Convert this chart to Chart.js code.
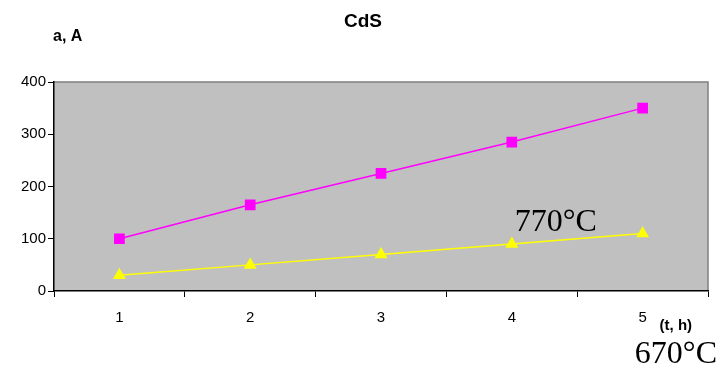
<!DOCTYPE html>
<html lang="ru">
<head>
    <meta charset="UTF-8">
    <title>CdS</title>
    <script src="https://cdn.jsdelivr.net/npm/chart.js"></script>
    <style>
        body {
            margin: 0;
            padding: 0;
            background: #fff;
        }
        .container {
            width: 720px;
            height: 365px;
            position: relative;
        }
    </style>
</head>
<body>
    <div class="container">
        <canvas id="cdsChart"></canvas>
    </div>
    <script>
        // datos
        const horas = ['1', '2', '3', '4', '5'];
        const serie770 = [100, 165, 225, 285, 350];
        const serie670 = [30, 50, 70, 90, 110];
        const ticksY = [0, 100, 200, 300, 400];

        const titulo = 'CdS';
        const ejeY = 'a, A';
        const ejeX = '(t, h)';
        const etiqueta770 = '770°C';
        const etiqueta670 = '670°C';

        // fondo gris del area y textos sueltos
        const fondoYTextos = {
            id: 'fondoYTextos',
            beforeDraw(chart) {
                const { ctx, chartArea: a } = chart;
                ctx.save();
                ctx.fillStyle = '#c0c0c0';
                ctx.fillRect(a.left, a.top, a.right - a.left, a.bottom - a.top);
                ctx.strokeStyle = '#808080';
                ctx.lineWidth = 1.5;
                ctx.beginPath();
                ctx.moveTo(a.left, a.top);
                ctx.lineTo(a.right, a.top);
                ctx.lineTo(a.right, a.bottom);
                ctx.stroke();
                ctx.restore();
            },
            afterDraw(chart) {
                const { ctx, chartArea: a, scales } = chart;
                ctx.save();
                ctx.fillStyle = '#000';
                ctx.textBaseline = 'alphabetic';

                ctx.font = 'bold 19px "Liberation Sans", Arial, sans-serif';
                ctx.textAlign = 'center';
                ctx.fillText(titulo, 363, 27);

                ctx.font = 'bold 16px "Liberation Sans", Arial, sans-serif';
                ctx.textAlign = 'left';
                ctx.fillText(ejeY, a.left - 1, 41);

                ctx.font = 'bold 15px "Liberation Sans", Arial, sans-serif';
                ctx.fillText(ejeX, scales.x.getPixelForValue(4) + 17, a.bottom + 39);

                ctx.font = '32px "Liberation Serif", "Times New Roman", serif';
                ctx.fillText(etiqueta770, scales.x.getPixelForValue(3) + 3, scales.y.getPixelForValue(115));
                ctx.textAlign = 'right';
                ctx.fillText(etiqueta670, chart.width - 3, chart.height - 2);
                ctx.restore();
            }
        };

        const ctx = document.getElementById('cdsChart').getContext('2d');
        new Chart(ctx, {
            type: 'line',
            data: {
                labels: horas,
                datasets: [
                    {
                        label: etiqueta770,
                        data: serie770,
                        borderColor: '#ff00ff',
                        backgroundColor: '#ff00ff',
                        borderWidth: 1.5,
                        pointStyle: 'rect',
                        pointRadius: 6.5,
                        pointHoverRadius: 6.5,
                        tension: 0
                    },
                    {
                        label: etiqueta670,
                        data: serie670,
                        borderColor: '#ffff00',
                        backgroundColor: '#ffff00',
                        borderWidth: 1.5,
                        pointStyle: 'triangle',
                        pointRadius: 6,
                        pointHoverRadius: 6,
                        tension: 0
                    }
                ]
            },
            options: {
                responsive: true,
                maintainAspectRatio: false,
                animation: false,
                layout: {
                    padding: { top: 82, right: 12, bottom: 0, left: 0 }
                },
                plugins: {
                    legend: { display: false },
                    title: { display: false },
                    tooltip: { enabled: false }
                },
                scales: {
                    x: {
                        offset: true,
                        grid: {
                            offset: true,
                            drawOnChartArea: false,
                            drawTicks: true,
                            tickLength: 6,
                            color: '#000'
                        },
                        border: { color: '#000', width: 1.5 },
                        ticks: {
                            color: '#000',
                            padding: 12,
                            font: { family: '"Liberation Sans", Arial, sans-serif', size: 15 }
                        },
                        afterFit(scale) { scale.height = 74; }
                    },
                    y: {
                        min: 0,
                        max: 400,
                        afterBuildTicks(scale) {
                            scale.ticks = ticksY.map(v => ({ value: v }));
                        },
                        grid: {
                            drawOnChartArea: false,
                            drawTicks: true,
                            tickLength: 6,
                            color: '#000'
                        },
                        border: { color: '#000', width: 1.5 },
                        ticks: {
                            color: '#000',
                            padding: 2,
                            font: { family: '"Liberation Sans", Arial, sans-serif', size: 15 }
                        },
                        afterFit(scale) { scale.width = 54; }
                    }
                }
            },
            plugins: [fondoYTextos]
        });
    </script>
</body>
</html>
